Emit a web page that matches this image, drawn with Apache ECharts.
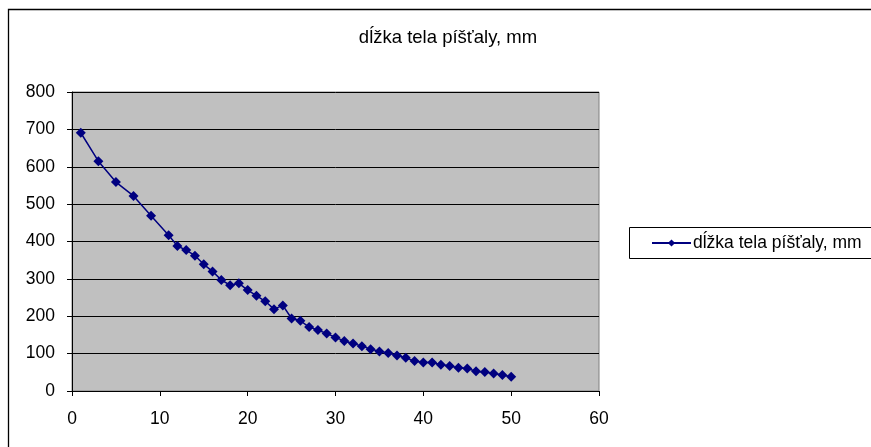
<!DOCTYPE html>
<html>
<head>
<meta charset="utf-8">
<style>
  html, body { margin: 0; padding: 0; background: #fff; }
  #chart { width: 871px; height: 447px; }
</style>
<script src="https://cdn.jsdelivr.net/npm/echarts@6/dist/echarts.min.js"></script>
</head>
<body>
<div id="chart"></div>
<script>
// Pipe number and body length (mm)
const seriesName = 'dĺžka tela píšťaly, mm';
const pipeNumbers = [1, 3, 5, 7, 9, 11, 12, 13, 14, 15, 16, 17, 18, 19, 20,
  21, 22, 23, 24, 25, 26, 27, 28, 29, 30, 31, 32, 33, 34, 35,
  36, 37, 38, 39, 40, 41, 42, 43, 44, 45, 46, 47, 48, 49, 50];
const bodyLengths = [691, 615, 559, 522, 469, 417, 388, 377, 362, 339, 320, 297, 283, 288, 270,
  255, 240, 219, 229, 194, 188, 171, 163, 154, 143, 134, 127, 120, 112, 106,
  102, 95, 89, 80, 76, 76, 70, 67, 62, 60, 53, 51, 47, 43, 38];
const xTicks = { min: 0, max: 60, interval: 10 };
const yTicks = { min: 0, max: 800, interval: 100 };

const FONT = '"Liberation Sans", Arial, sans-serif';
const points = pipeNumbers.map((x, i) => [x, bodyLengths[i]]);

const chart = echarts.init(document.getElementById('chart'), null, { renderer: 'canvas' });
chart.setOption({
  animation: false,
  backgroundColor: '#ffffff',
  textStyle: { fontFamily: FONT },
  title: {
    text: seriesName,
    left: 443, top: 23, textAlign: 'center',
    textStyle: { fontFamily: FONT, fontSize: 18.5, fontWeight: 'normal', color: '#000' }
  },
  graphic: [
    { type: 'rect', shape: { x: 8.5, y: 9.5, width: 900, height: 500 },
      style: { fill: 'none', stroke: '#000', lineWidth: 1.3 }, silent: true, z: -1 },
    { type: 'rect', shape: { x: 629.5, y: 227.5, width: 260, height: 31 },
      style: { fill: '#fff', stroke: '#000', lineWidth: 1 }, silent: true, z: 0 }
  ],
  legend: {
    left: 651, top: 234, padding: 0,
    itemWidth: 39, itemHeight: 9, itemGap: 0,
    textStyle: { fontFamily: FONT, fontSize: 17.5, color: '#000', padding: [0, 0, 0, -3] },
    data: [{ name: seriesName }],
    z: 5
  },
  grid: {
    left: 72, top: 92, width: 527, height: 299,
    show: true, backgroundColor: '#C0C0C0', borderColor: '#808080', borderWidth: 1
  },
  xAxis: {
    type: 'value', min: xTicks.min, max: xTicks.max, interval: xTicks.interval,
    axisLine: { show: true, onZero: false, lineStyle: { color: '#000', width: 1 } },
    axisTick: { show: true, inside: false, length: 5, lineStyle: { color: '#000' } },
    axisLabel: { fontFamily: FONT, fontSize: 17.5, color: '#000', margin: 19 },
    splitLine: { show: false }
  },
  yAxis: {
    type: 'value', min: yTicks.min, max: yTicks.max, interval: yTicks.interval,
    axisLine: { show: true, onZero: false, lineStyle: { color: '#000', width: 1 } },
    axisTick: { show: true, inside: false, length: 5, lineStyle: { color: '#000' } },
    axisLabel: { fontFamily: FONT, fontSize: 17.5, color: '#000', margin: 17 },
    splitLine: { show: true, lineStyle: { color: '#000', width: 1 } }
  },
  series: [{
    name: seriesName,
    type: 'line',
    data: points,
    symbol: 'diamond',
    symbolSize: 10,
    showAllSymbol: true,
    color: '#000080',
    lineStyle: { color: '#000080', width: 1.5 },
    itemStyle: { color: '#000080' }
  }]
});
</script>
</body>
</html>
